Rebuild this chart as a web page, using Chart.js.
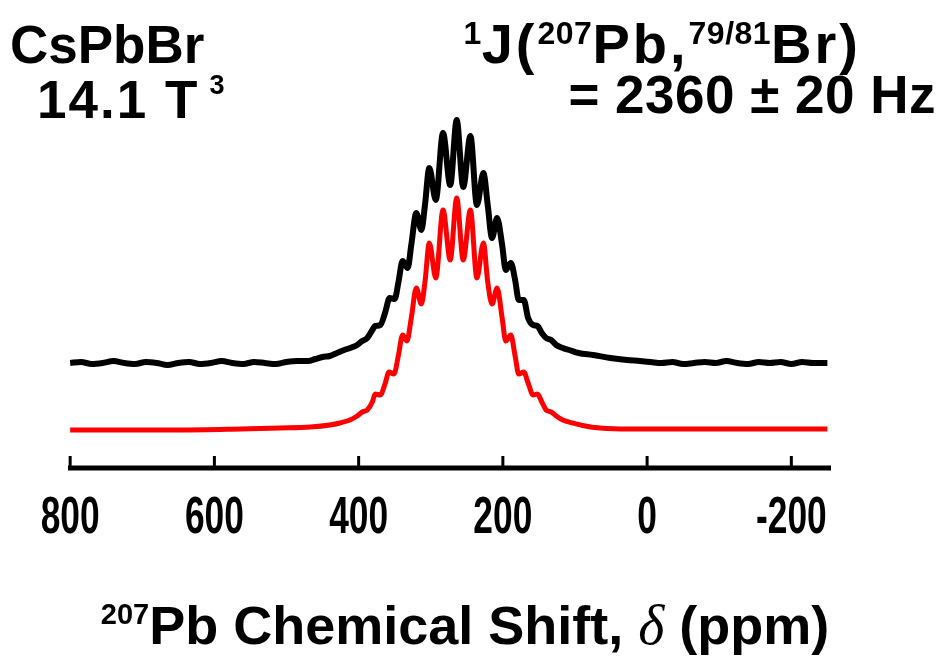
<!DOCTYPE html>
<html>
<head>
<meta charset="utf-8">
<script src="https://cdn.jsdelivr.net/npm/chart.js@4.4.1/dist/chart.umd.min.js"></script>
<style>
html,body{margin:0;padding:0;background:#fff;}
#wrap{position:relative;width:945px;height:659px;overflow:hidden;background:#fff;}
#c{position:absolute;left:0;top:0;}
.t{position:absolute;font-family:"Liberation Sans",Arial,Helvetica,sans-serif;font-weight:bold;color:#000;white-space:nowrap;line-height:1;}
.t sup{vertical-align:baseline;position:relative;}
.t i{font-family:"Liberation Serif","Times New Roman",serif;font-weight:normal;font-style:italic;}
.r1 sup{font-size:32px;top:-19px;letter-spacing:0.5px;}
</style>
</head>
<body>
<div id="wrap">
<canvas id="c" width="945" height="659"></canvas>
<div class="t" style="left:10px;top:18px;font-size:53px;">CsPbBr<span style="font-size:27px;position:relative;top:31px;margin-left:5px;">3</span></div>
<div class="t" style="left:37px;top:73px;font-size:53px;letter-spacing:2px;">14.1 T</div>
<div class="t r1" style="right:84px;top:16px;font-size:56px;letter-spacing:3px;"><sup>1</sup>J(<sup>207</sup>Pb,<sup>79/81</sup>Br)</div>
<div class="t" style="right:9px;top:68px;font-size:53px;letter-spacing:0.5px;">= 2360 ± 20 Hz</div>
<div class="t" style="left:0;width:930px;text-align:center;top:597px;font-size:54px;"><sup style="font-size:29px;top:-20px;">207</sup>Pb Chemical Shift, <i style="font-size:56px;">δ</i> (ppm)</div>
</div>
<script>
// x: 207Pb chemical shift (ppm), y: intensity (arbitrary units, stacked traces)
const ppmExp = [800,785,770,755,740,725,710,695,680,665,650,635,620,605,590,575,560,545,530,515,500,485,470,460,450,440,430,420,412,402,395,388,381,377,370,363,357,350,345,339,332,327,320,313,308,302,293,283,273,264,255,245,236,227,221,215,208,201,196,189,183,178,171,165,158,152,146,140,133,126,117,108,95,75,51,28,10,-5,-20,-35,-50,-65,-80,-95,-110,-125,-140,-155,-170,-185,-200,-215,-230,-250];
const intExp = [1.05,1.06,1.04,1.05,1.07,1.05,1.04,1.06,1.05,1.03,1.05,1.06,1.04,1.05,1.07,1.05,1.04,1.06,1.05,1.04,1.06,1.07,1.07,1.09,1.11,1.12,1.15,1.18,1.20,1.23,1.27,1.30,1.38,1.42,1.43,1.56,1.70,1.69,1.85,2.07,2.00,2.23,2.55,2.38,2.63,3.00,2.68,3.35,2.83,3.48,2.81,3.32,2.63,2.95,2.63,2.30,2.50,2.23,1.98,2.05,1.88,1.68,1.68,1.50,1.43,1.42,1.35,1.30,1.28,1.23,1.20,1.18,1.15,1.13,1.10,1.08,1.07,1.06,1.05,1.06,1.04,1.05,1.06,1.05,1.07,1.05,1.04,1.06,1.05,1.06,1.04,1.06,1.05,1.05];
const ppmSim = [800,731,648,564,509,467,440,426,412,402,395,388,381,377,370,363,358,351,345,339,333,327,320,313,308,302,293,283,273,264,255,245,236,227,221,215,208,201,196,189,183,178,171,165,158,152,146,140,133,126,117,103,86,65,24,-46,-129,-250];
const intSim = [0.38,0.38,0.38,0.39,0.40,0.41,0.43,0.45,0.48,0.52,0.56,0.58,0.66,0.74,0.73,0.85,0.96,0.94,1.12,1.33,1.27,1.50,1.80,1.64,1.86,2.25,1.90,2.58,2.08,2.70,2.08,2.58,1.90,2.25,1.86,1.64,1.80,1.50,1.27,1.33,1.12,0.94,0.96,0.85,0.73,0.74,0.66,0.58,0.56,0.52,0.48,0.45,0.42,0.40,0.39,0.39,0.39,0.39];
const tickValues = [800,600,400,200,0,-200];

const toPts = (xs, ys) => xs.map((x, i) => ({x: x, y: ys[i]}));

const axisPlugin = {
  id: 'axisPlugin',
  afterDatasetsDraw(chart) {
    const ctx = chart.ctx, a = chart.chartArea, xs = chart.scales.x;
    ctx.save();
    ctx.strokeStyle = '#000';
    ctx.lineWidth = 5;
    ctx.beginPath();
    ctx.moveTo(a.left, a.bottom);
    ctx.lineTo(a.right, a.bottom);
    ctx.stroke();
    ctx.lineWidth = 3;
    tickValues.forEach(v => {
      const px = xs.getPixelForValue(v);
      ctx.beginPath();
      ctx.moveTo(px, a.bottom);
      ctx.lineTo(px, a.bottom - 12);
      ctx.stroke();
    });
    ctx.fillStyle = '#000';
    ctx.font = 'bold 52px "Liberation Sans", Arial, sans-serif';
    ctx.textAlign = 'center';
    ctx.textBaseline = 'alphabetic';
    tickValues.forEach(v => {
      const px = xs.getPixelForValue(v);
      ctx.save();
      ctx.translate(px, a.bottom + 65);
      ctx.scale(0.68, 1);
      ctx.fillText(String(v), 0, 0);
      ctx.restore();
    });
    ctx.restore();
  }
};

new Chart(document.getElementById('c'), {
  type: 'line',
  data: {
    datasets: [
      {label: 'Experimental', data: toPts(ppmExp, intExp), borderColor: '#000000', borderWidth: 6, pointRadius: 0, fill: false, cubicInterpolationMode: 'monotone'},
      {label: 'Simulated', data: toPts(ppmSim, intSim), borderColor: '#ff0000', borderWidth: 5, pointRadius: 0, fill: false, cubicInterpolationMode: 'monotone'}
    ]
  },
  options: {
    responsive: false,
    animation: false,
    devicePixelRatio: 1,
    layout: {padding: {left: 68, right: 114, top: 60, bottom: 191}},
    scales: {
      x: {type: 'linear', reverse: true, min: -255, max: 803, display: false},
      y: {type: 'linear', min: 0, max: 4.08, display: false}
    },
    plugins: {legend: {display: false}, tooltip: {enabled: false}}
  },
  plugins: [axisPlugin]
});
</script>
</body>
</html>
